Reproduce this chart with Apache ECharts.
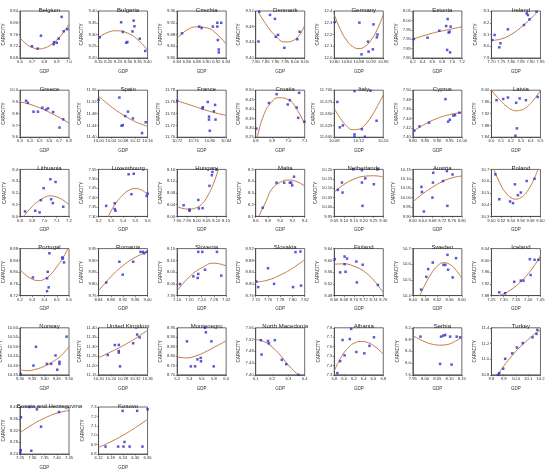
<!DOCTYPE html>
<html>
<head>
<meta charset="utf-8">
<script src="https://cdn.jsdelivr.net/npm/echarts@6/dist/echarts.min.js"></script>
<style>
html, body { margin: 0; padding: 0; background: #fff; }
#chart { width: 550px; height: 472px; }
</style>
</head>
<body>
<div id="chart"></div>
<script>
const countries = ['Belgium', 'Bulgaria', 'Czechia', 'Denmark', 'Germany', 'Estonia', 'Ireland',
    'Greece', 'Spain', 'France', 'Croatia', 'Italy', 'Cyprus', 'Latvia',
    'Lithuania', 'Luxembourg', 'Hungary', 'Malta', 'Netherlands', 'Austria', 'Poland',
    'Portugal', 'Romania', 'Slovenia', 'Slovakia', 'Finland', 'Sweden', 'Iceland',
    'Norway', 'United Kingdom', 'Montenegro', 'North Macedonia', 'Albania', 'Serbia', 'Turkey',
    'Bosnia and Herzegovina', 'Kosovo'];

// GDP axis of each panel: [min, max, interval]
const gdpAxes = [
    [6.6, 7.0, 0.1], [8.15, 8.40, 0.05], [6.84, 6.94, 0.02], [7.80, 8.05, 0.05], [10.80, 10.96, 0.04], [6.2, 7.2, 0.2], [7.70, 7.95, 0.05],
    [6.3, 6.8, 0.1], [10.00, 10.16, 0.04], [10.72, 10.84, 0.04], [6.8, 7.1, 0.1], [10.08, 10.16, 0.04], [9.80, 10.00, 0.05], [6.0, 6.5, 0.1],
    [6.8, 7.2, 0.1], [5.2, 5.6, 0.1], [7.90, 8.15, 0.05], [8.6, 9.4, 0.2], [9.05, 9.30, 0.05], [8.60, 8.80, 0.04], [9.50, 9.60, 0.02],
    [6.2, 6.6, 0.1], [8.84, 9.00, 0.04], [7.16, 7.32, 0.04], [7.74, 7.82, 0.02], [8.66, 8.76, 0.02], [8.44, 8.60, 0.04], [7.25, 7.45, 0.05],
    [9.30, 9.50, 0.05], [10.20, 10.36, 0.04], [5.2, 6.0, 0.2], [6.1, 6.4, 0.1], [5.8, 6.8, 0.2], [7.95, 8.15, 0.05], [9.8, 10.2, 0.1],
    [7.25, 7.45, 0.05], [6.12, 6.36, 0.06]
];

// CAPACITY axis of each panel: [min, max, interval]
const capAxes = [
    [9.68, 9.84, 0.04], [9.20, 9.40, 0.05], [9.80, 9.96, 0.04], [9.40, 9.52, 0.04], [12.0, 12.4, 0.1], [7.80, 8.05, 0.05], [7.9, 8.3, 0.1],
    [9.6, 10.0, 0.1], [11.40, 11.56, 0.04], [11.70, 11.78, 0.02], [8.25, 8.50, 0.05], [11.600, 11.700, 0.025], [7.40, 7.50, 0.02], [7.84, 8.00, 0.04],
    [8.0, 8.4, 0.1], [7.30, 7.55, 0.05], [8.00, 8.16, 0.04], [8.1, 8.5, 0.1], [9.95, 10.20, 0.05], [9.90, 10.15, 0.05], [10.3, 10.7, 0.1],
    [8.72, 8.88, 0.04], [9.75, 9.95, 0.05], [7.95, 8.15, 0.05], [8.76, 8.92, 0.04], [9.48, 9.64, 0.04], [10.4, 10.7, 0.1], [7.88, 8.04, 0.04],
    [10.35, 10.60, 0.05], [11.15, 11.40, 0.05], [8.70, 8.95, 0.05], [7.40, 7.56, 0.04], [7.3, 7.8, 0.1], [7.6, 9.2, 0.4], [10.8, 11.4, 0.2],
    [8.24, 8.40, 0.04], [6.8, 7.3, 0.1]
];

// observations [GDP, CAPACITY] per panel
const points = [
    [[6.698, 9.720], [6.744, 9.712], [6.771, 9.756], [6.875, 9.727], [6.878, 9.734], [6.900, 9.732], [6.916, 9.746], [6.940, 9.820], [6.957, 9.771], [6.986, 9.778]],
    [[8.156, 9.288], [8.265, 9.352], [8.274, 9.311], [8.291, 9.265], [8.297, 9.268], [8.329, 9.359], [8.333, 9.335], [8.323, 9.313], [8.360, 9.282], [8.388, 9.230]],
    [[6.850, 9.884], [6.885, 9.907], [6.890, 9.902], [6.913, 9.907], [6.922, 9.907], [6.922, 9.920], [6.923, 9.861], [6.925, 9.829], [6.925, 9.819], [6.930, 9.920]],
    [[7.818, 9.518], [7.814, 9.442], [7.873, 9.510], [7.898, 9.500], [7.902, 9.454], [7.914, 9.459], [7.946, 9.426], [8.012, 9.448], [8.024, 9.467]],
    [[10.802, 12.306], [10.882, 12.301], [10.889, 12.031], [10.910, 12.139], [10.912, 12.054], [10.928, 12.286], [10.926, 12.074], [10.939, 12.176], [10.941, 12.200]],
    [[6.22, 7.901], [6.50, 7.908], [6.74, 7.945], [6.88, 7.970], [6.91, 8.007], [6.93, 7.935], [6.95, 7.940], [6.97, 7.967], [6.90, 7.843], [6.96, 7.830]],
    [[7.704, 8.053], [7.716, 8.096], [7.740, 7.991], [7.746, 8.025], [7.784, 8.144], [7.866, 8.181], [7.880, 8.280], [7.886, 8.266], [7.894, 8.229], [7.930, 8.294]],
    [[6.362, 9.910], [6.380, 9.893], [6.438, 9.817], [6.483, 9.817], [6.528, 9.851], [6.566, 9.834], [6.586, 9.845], [6.638, 9.814], [6.703, 9.682], [6.741, 9.752]],
    [[10.00, 11.527], [10.068, 11.535], [10.075, 11.439], [10.079, 11.441], [10.087, 11.472], [10.096, 11.487], [10.112, 11.464], [10.142, 11.414], [10.154, 11.451]],
    [[10.72, 11.762], [10.782, 11.749], [10.783, 11.751], [10.795, 11.760], [10.798, 11.735], [10.798, 11.730], [10.80, 11.711], [10.81, 11.744], [10.813, 11.755], [10.814, 11.730]],
    [[6.804, 8.296], [6.881, 8.432], [6.928, 8.479], [6.996, 8.424], [7.009, 8.447], [7.051, 8.408], [7.060, 8.353], [7.066, 8.486], [7.098, 8.332]],
    [[10.085, 11.675], [10.089, 11.621], [10.094, 11.625], [10.113, 11.698], [10.113, 11.606], [10.113, 11.601], [10.125, 11.617], [10.130, 11.601], [10.139, 11.699], [10.149, 11.635]],
    [[9.806, 7.414], [9.827, 7.423], [9.866, 7.431], [9.933, 7.481], [9.944, 7.433], [9.951, 7.437], [9.965, 7.446], [9.972, 7.447], [9.990, 7.452]],
    [[6.052, 7.966], [6.12, 7.970], [6.168, 7.975], [6.252, 7.957], [6.26, 7.870], [6.245, 7.845], [6.288, 7.972], [6.352, 7.966], [6.472, 7.977]],
    [[6.841, 8.042], [6.924, 8.048], [6.96, 8.034], [6.971, 8.138], [6.993, 8.24], [7.048, 8.316], [7.054, 8.146], [7.068, 8.113], [7.09, 8.293], [7.153, 8.082]],
    [[5.262, 7.356], [5.332, 7.370], [5.332, 7.339], [5.338, 7.330], [5.445, 7.524], [5.487, 7.527], [5.468, 7.418], [5.592, 7.409], [5.60, 7.421]],
    [[7.933, 8.038], [7.963, 8.023], [7.963, 8.019], [8.008, 8.056], [8.011, 8.027], [8.030, 8.028], [8.065, 8.104], [8.077, 8.140], [8.080, 8.151], [8.101, 8.160]],
    [[8.714, 8.174], [8.94, 8.387], [9.065, 8.387], [9.157, 8.387], [9.18, 8.387], [9.196, 8.364], [9.225, 8.438]],
    [[9.068, 10.091], [9.089, 10.130], [9.092, 10.077], [9.147, 10.20], [9.191, 10.196], [9.191, 10.130], [9.194, 10.006], [9.208, 10.152], [9.252, 10.121], [9.27, 10.20]],
    [[8.635, 10.057], [8.637, 10.030], [8.645, 9.926], [8.682, 10.080], [8.683, 10.132], [8.680, 10.000], [8.723, 10.088], [8.739, 10.141], [8.741, 9.956], [8.762, 10.123]],
    [[9.508, 10.658], [9.516, 10.446], [9.538, 10.427], [9.544, 10.413], [9.548, 10.573], [9.554, 10.48], [9.56, 10.503], [9.572, 10.601], [9.588, 10.62]],
    [[6.305, 8.782], [6.421, 8.735], [6.426, 8.801], [6.421, 8.779], [6.434, 8.748], [6.44, 8.864], [6.545, 8.85], [6.55, 8.846], [6.559, 8.833]],
    [[8.865, 9.806], [8.908, 9.894], [8.919, 9.839], [8.953, 9.894], [8.977, 9.936], [8.985, 9.936], [8.989, 9.930], [8.997, 9.936]],
    [[7.169, 7.999], [7.213, 8.032], [7.227, 8.025], [7.229, 8.042], [7.229, 8.136], [7.242, 8.136], [7.251, 8.060], [7.29, 8.136], [7.304, 8.035]],
    [[7.741, 8.808], [7.744, 8.789], [7.76, 8.853], [7.77, 8.80], [7.805, 8.908], [7.813, 8.91], [7.801, 8.789], [7.814, 8.794]],
    [[8.661, 9.604], [8.672, 9.559], [8.681, 9.613], [8.681, 9.587], [8.683, 9.561], [8.686, 9.606], [8.705, 9.596], [8.706, 9.525], [8.718, 9.585], [8.749, 9.516]],
    [[8.467, 10.438], [8.484, 10.52], [8.49, 10.569], [8.505, 10.611], [8.54, 10.596], [8.546, 10.596], [8.553, 10.66], [8.555, 10.565], [8.57, 10.516], [8.581, 10.639]],
    [[7.282, 7.891], [7.306, 7.888], [7.343, 7.927], [7.37, 7.931], [7.381, 7.931], [7.407, 8.004], [7.41, 7.95], [7.426, 8.002], [7.442, 8.002]],
    [[9.303, 10.354], [9.355, 10.399], [9.365, 10.499], [9.41, 10.408], [9.427, 10.408], [9.445, 10.453], [9.452, 10.377], [9.461, 10.419], [9.461, 10.408], [9.49, 10.553]],
    [[10.23, 11.255], [10.253, 11.308], [10.266, 11.309], [10.266, 11.277], [10.266, 11.268], [10.27, 11.195], [10.313, 11.318], [10.326, 11.364], [10.334, 11.349]],
    [[5.36, 8.878], [5.424, 8.745], [5.493, 8.745], [5.531, 8.782], [5.584, 8.79], [5.589, 8.772], [5.653, 8.95], [5.669, 8.926], [5.76, 8.878], [5.797, 8.745]],
    [[6.132, 7.518], [6.136, 7.469], [6.175, 7.515], [6.181, 7.507], [6.217, 7.518], [6.26, 7.451], [6.287, 7.436], [6.362, 7.40]],
    [[5.863, 7.318], [5.92, 7.445], [5.969, 7.67], [6.011, 7.507], [6.117, 7.68], [6.145, 7.789], [6.251, 7.543], [6.413, 7.528], [6.518, 7.608], [6.61, 7.699]],
    [[7.981, 8.899], [8.065, 8.899], [8.074, 8.933], [8.082, 8.957], [8.102, 8.899], [8.061, 7.971], [8.108, 7.948], [8.129, 8.899], [8.143, 8.875]],
    [[9.854, 10.80], [9.864, 10.82], [9.896, 10.878], [9.912, 11.004], [9.97, 11.074], [10.008, 11.148], [10.056, 11.204], [10.136, 11.278], [10.168, 11.322], [10.175, 11.374]],
    [[7.254, 8.365], [7.253, 8.253], [7.251, 8.245], [7.289, 8.40], [7.296, 8.251], [7.319, 8.392], [7.336, 8.333], [7.409, 8.383]],
    [[6.154, 6.879], [6.216, 6.879], [6.238, 7.259], [6.242, 6.879], [6.247, 6.928], [6.272, 6.879], [6.309, 7.259], [6.335, 6.879], [6.36, 7.276]]
];

// fitted curve at a few GDP values
const fits = [
    [[6.6, 9.749], [6.65, 9.728], [6.7, 9.716], [6.75, 9.711], [6.8, 9.714], [6.85, 9.724], [6.9, 9.741], [6.95, 9.765], [7.0, 9.795]],
    [[8.15, 9.287], [8.20, 9.310], [8.243, 9.316], [8.30, 9.305], [8.35, 9.278], [8.40, 9.233]],
    [[6.84, 9.867], [6.86, 9.895], [6.88, 9.906], [6.90, 9.903], [6.92, 9.883], [6.94, 9.847]],
    [[7.81, 9.52], [7.85, 9.488], [7.90, 9.457], [7.95, 9.441], [8.00, 9.447], [8.05, 9.484]],
    [[10.80, 12.37], [10.82, 12.242], [10.84, 12.152], [10.86, 12.098], [10.88, 12.08], [10.90, 12.098], [10.92, 12.152], [10.94, 12.242], [10.96, 12.37]],
    [[6.2, 7.90], [6.6, 7.932], [7.0, 7.955], [7.2, 7.966]],
    [[7.70, 8.05], [7.75, 8.062], [7.80, 8.10], [7.85, 8.16], [7.90, 8.235], [7.94, 8.30]],
    [[6.3, 9.90], [6.4, 9.88], [6.5, 9.85], [6.6, 9.812], [6.7, 9.768], [6.8, 9.72]],
    [[10.00, 11.540], [10.04, 11.505], [10.08, 11.476], [10.12, 11.453], [10.16, 11.437]],
    [[10.72, 11.762], [10.76, 11.753], [10.80, 11.744], [10.84, 11.737]],
    [[6.81, 8.25], [6.85, 8.37], [6.90, 8.44], [6.94, 8.46], [7.00, 8.45], [7.05, 8.40], [7.10, 8.32]],
    [[10.08, 11.661], [10.09, 11.640], [10.10, 11.624], [10.11, 11.616], [10.12, 11.617], [10.13, 11.626], [10.14, 11.643], [10.15, 11.665], [10.16, 11.690]],
    [[9.80, 7.412], [9.85, 7.428], [9.90, 7.440], [9.95, 7.448], [10.00, 7.453]],
    [[6.0, 8.0], [6.05, 7.98], [6.1, 7.962], [6.15, 7.946], [6.2, 7.935], [6.25, 7.93], [6.3, 7.932], [6.35, 7.94], [6.4, 7.955], [6.45, 7.975], [6.5, 8.0]],
    [[6.83, 8.0], [6.9, 8.085], [6.95, 8.13], [7.0, 8.162], [7.05, 8.175], [7.1, 8.165], [7.15, 8.14], [7.2, 8.10]],
    [[5.28, 7.30], [5.33, 7.36], [5.40, 7.415], [5.45, 7.44], [5.50, 7.448], [5.55, 7.44], [5.60, 7.418]],
    [[7.90, 8.034], [7.93, 8.027], [7.96, 8.025], [8.00, 8.030], [8.03, 8.045], [8.06, 8.075], [8.09, 8.12], [8.11, 8.16]],
    [[8.65, 8.10], [8.77, 8.23], [8.86, 8.33], [9.0, 8.39], [9.14, 8.409], [9.25, 8.40], [9.4, 8.358]],
    [[9.05, 10.08], [9.10, 10.12], [9.15, 10.148], [9.20, 10.163], [9.25, 10.166], [9.30, 10.16]],
    [[8.60, 9.977], [8.64, 10.02], [8.68, 10.055], [8.72, 10.085], [8.76, 10.105], [8.80, 10.115]],
    [[9.505, 10.70], [9.52, 10.56], [9.53, 10.497], [9.54, 10.46], [9.55, 10.447], [9.56, 10.46], [9.57, 10.497], [9.58, 10.56], [9.59, 10.647], [9.595, 10.70]],
    [[6.2, 8.808], [6.25, 8.789], [6.3, 8.776], [6.35, 8.771], [6.4, 8.776], [6.45, 8.792], [6.5, 8.818], [6.55, 8.848], [6.59, 8.88]],
    [[8.84, 9.77], [8.88, 9.83], [8.92, 9.878], [8.96, 9.913], [9.00, 9.937]],
    [[7.16, 7.97], [7.20, 8.03], [7.24, 8.068], [7.28, 8.088], [7.32, 8.076]],
    [[7.74, 8.806], [7.76, 8.813], [7.78, 8.83], [7.80, 8.853], [7.82, 8.883]],
    [[8.66, 9.587], [8.68, 9.588], [8.70, 9.58], [8.72, 9.563], [8.74, 9.533], [8.76, 9.49]],
    [[8.462, 10.40], [8.48, 10.47], [8.50, 10.54], [8.52, 10.588], [8.54, 10.61], [8.56, 10.60], [8.58, 10.565], [8.60, 10.51]],
    [[7.28, 7.88], [7.30, 7.886], [7.33, 7.90], [7.36, 7.92], [7.39, 7.945], [7.42, 7.976], [7.45, 8.015]],
    [[9.30, 10.377], [9.33, 10.372], [9.36, 10.378], [9.40, 10.396], [9.44, 10.425], [9.47, 10.455], [9.50, 10.50]],
    [[10.20, 11.241], [10.24, 11.272], [10.28, 11.305], [10.32, 11.343], [10.36, 11.388]],
    [[5.2, 8.795], [5.35, 8.79], [5.5, 8.80], [5.65, 8.82], [5.8, 8.846], [6.0, 8.88]],
    [[6.10, 7.52], [6.15, 7.513], [6.20, 7.495], [6.25, 7.467], [6.30, 7.433], [6.36, 7.40]],
    [[5.8, 7.343], [5.9, 7.45], [6.0, 7.535], [6.1, 7.595], [6.2, 7.635], [6.35, 7.655], [6.5, 7.64], [6.6, 7.61], [6.7, 7.57], [6.8, 7.52]],
    [[7.95, 8.93], [8.00, 8.72], [8.03, 8.64], [8.06, 8.61], [8.09, 8.63], [8.12, 8.73], [8.15, 8.88]],
    [[9.85, 10.80], [9.90, 10.91], [9.95, 11.01], [10.00, 11.10], [10.05, 11.18], [10.10, 11.25], [10.15, 11.32], [10.20, 11.37]],
    [[7.25, 8.312], [7.30, 8.340], [7.35, 8.362], [7.40, 8.379], [7.45, 8.388]],
    [[6.12, 6.87], [6.18, 6.93], [6.24, 7.00], [6.30, 7.08], [6.36, 7.17]]
];

const FONT = '"Liberation Sans", Arial, sans-serif';
const cellW = 550 / 7;
const cellH = 79.2;
const boxW = 49;
const boxH = 47;

function decimalsOf(step) {
    let s = String(step);
    let dot = s.indexOf('.');
    return dot < 0 ? 0 : s.length - dot - 1;
}

let grid = [], xAxis = [], yAxis = [], title = [], series = [];

countries.forEach(function (name, i) {
    let col = i % 7;
    let row = Math.floor(i / 7);
    let left = col * cellW + 20;
    let top = 11 + row * cellH;
    let gx = gdpAxes[i], gy = capAxes[i];
    let dx = decimalsOf(gx[2]), dy = decimalsOf(gy[2]);

    grid.push({
        left: left, top: top, width: boxW, height: boxH,
        show: true, borderColor: '#444', borderWidth: 0.8,
        containLabel: false, outerBoundsMode: 'none'
    });
    title.push({
        text: name, left: left + boxW / 2, top: top - 9, textAlign: 'center',
        textStyle: {fontSize: 6, fontWeight: 'normal', color: '#222', fontFamily: FONT}
    });
    xAxis.push({
        gridIndex: i, type: 'value', min: gx[0], max: gx[1], interval: gx[2],
        name: 'GDP', nameLocation: 'middle', nameGap: 11,
        nameTextStyle: {fontSize: 4.5, color: '#333', fontFamily: FONT},
        axisLine: {show: true, onZero: false, lineStyle: {color: '#444', width: 0.8}},
        axisTick: {show: true, length: 1.5, lineStyle: {color: '#444', width: 0.6}},
        axisLabel: {fontSize: 4.2, margin: 2, color: '#333', fontFamily: FONT, hideOverlap: false,
            formatter: function (v) { return v.toFixed(dx); }},
        splitLine: {show: false}
    });
    yAxis.push({
        gridIndex: i, type: 'value', min: gy[0], max: gy[1], interval: gy[2],
        name: 'CAPACITY', nameLocation: 'middle', nameGap: 13,
        nameTextStyle: {fontSize: 4.5, color: '#333', fontFamily: FONT},
        axisLine: {show: true, onZero: false, lineStyle: {color: '#444', width: 0.8}},
        axisTick: {show: true, length: 1.5, lineStyle: {color: '#444', width: 0.6}},
        axisLabel: {fontSize: 4.2, margin: 2, color: '#333', fontFamily: FONT, hideOverlap: false,
            formatter: function (v) { return v.toFixed(dy); }},
        splitLine: {show: false}
    });
    series.push({
        type: 'line', xAxisIndex: i, yAxisIndex: i, data: fits[i],
        smooth: true, showSymbol: false, symbol: 'none', z: 2,
        lineStyle: {color: '#c47a45', width: 1}
    });
    series.push({
        type: 'scatter', xAxisIndex: i, yAxisIndex: i, data: points[i],
        symbol: 'rect', symbolSize: 2.5, z: 3,
        itemStyle: {color: '#3030cc'}
    });
});

let myChart = echarts.init(document.getElementById('chart'));
myChart.setOption({
    animation: false,
    backgroundColor: '#fff',
    textStyle: {fontFamily: FONT},
    title: title,
    grid: grid,
    xAxis: xAxis,
    yAxis: yAxis,
    series: series
});
</script>
</body>
</html>
